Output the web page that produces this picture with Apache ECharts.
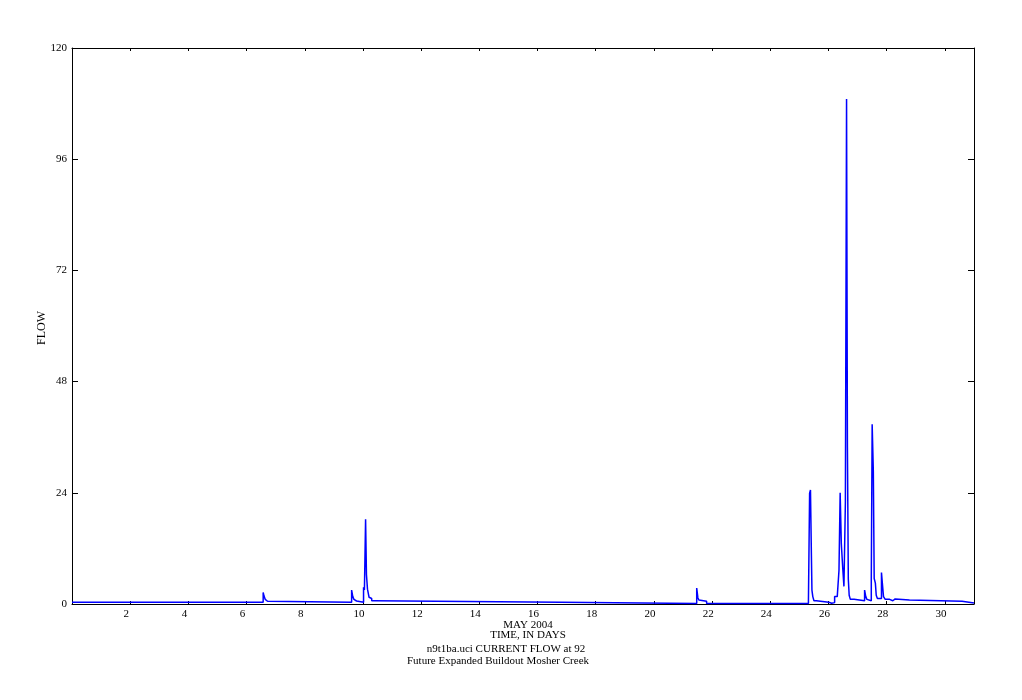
<!DOCTYPE html>
<html>
<head>
<meta charset="utf-8">
<script src="https://cdn.jsdelivr.net/npm/echarts@6/dist/echarts.min.js"></script>
<style>html,body{margin:0;padding:0;background:#fff}#c{width:1022px;height:700px}</style>
</head>
<body>
<div id="c"></div>
<script>
var days = [0, 6.57, 6.60, 6.64, 6.68, 6.72, 9.61, 9.65, 9.69, 9.74, 9.78, 10.02, 10.05, 10.09, 10.12, 10.155, 10.21, 10.26, 10.30, 10.37, 16.79, 21.47, 21.51, 21.545, 21.59, 21.81, 25.31, 25.35, 25.38, 25.41, 25.43, 25.46, 25.50, 25.58, 26.01, 26.11, 26.15, 26.21, 26.30, 26.36, 26.40, 26.44, 26.49, 26.53, 26.58, 26.62, 26.65, 26.68, 26.71, 26.75, 26.88, 27.24, 27.28, 27.32, 27.35, 27.47, 27.50, 27.54, 27.57, 27.61, 27.64, 27.68, 27.82, 27.85, 27.89, 27.95, 28.10, 28.21, 28.29, 28.78, 30.59, 31];
var flow = [0.4, 2.5, 1.7, 1.0, 0.6, 0.4, 3.0, 1.6, 1.0, 0.65, 0.4, 3.6, 3.0, 18.3, 6.3, 3.2, 1.45, 1.2, 0.7, 0.4, 0.12, 3.45, 1.36, 0.86, 0.58, 0.12, 0.7, 23.9, 24.6, 11.3, 3.0, 1.6, 0.7, 0.37, 0.15, 0.02, 0.3, 1.6, 1.9, 7.3, 24.0, 13.0, 7.6, 3.8, 22.0, 109, 33.7, 5.4, 1.9, 1.0, 0.7, 3.0, 1.6, 1.0, 0.7, 5.5, 38.8, 28.7, 5.5, 4.5, 1.9, 1.2, 6.8, 4.5, 1.6, 1.0, 0.7, 1.1, 0.85, 0.6, 0.2, 0.2];
var xTicks = [2, 4, 6, 8, 10, 12, 14, 16, 18, 20, 22, 24, 26, 28, 30];
var yTicks = [0, 24, 48, 72, 96, 120];
var xRange = [0, 31];
var yRange = [0, 120];
var yLabel = 'FLOW';
var xTitle1 = 'MAY 2004';
var xTitle2 = 'TIME, IN DAYS';
var note1 = 'n9t1ba.uci CURRENT FLOW at 92';
var note2 = 'Future Expanded Buildout Mosher Creek';

var FONT = '"Liberation Serif", "DejaVu Serif", serif';
// each value holds from its day until the next day (step function)
var pairs = [];
days.forEach(function (d, i) {
  if (i > 0) pairs.push([d, flow[i - 1]]);
  pairs.push([d, flow[i]]);
});

var chart = echarts.init(document.getElementById('c'), null, {renderer: 'canvas'});
var axisLine = {show: true, onZero: false, lineStyle: {color: '#000', width: 1}};
chart.setOption({
  animation: false,
  backgroundColor: '#fff',
  grid: {left: 72, right: 48, top: 48, bottom: 96, containLabel: false},
  xAxis: [{
    type: 'value', position: 'bottom', min: xRange[0], max: xRange[1],
    axisLine: axisLine,
    axisTick: {show: true, inside: true, length: 3, customValues: xTicks, lineStyle: {color: '#000'}},
    axisLabel: {show: true, customValues: xTicks, color: '#000', fontFamily: FONT, fontSize: 11, margin: 5, padding: [0, 8, 0, 0]},
    splitLine: {show: false}
  }, {
    type: 'value', position: 'top', min: xRange[0], max: xRange[1],
    axisLine: axisLine,
    axisTick: {show: true, inside: true, length: 3, customValues: xTicks, lineStyle: {color: '#000'}},
    axisLabel: {show: false},
    splitLine: {show: false}
  }],
  yAxis: [{
    type: 'value', position: 'left', min: yRange[0], max: yRange[1],
    axisLine: axisLine,
    axisTick: {show: true, inside: true, length: 6, customValues: yTicks, lineStyle: {color: '#000'}},
    axisLabel: {show: true, customValues: yTicks, color: '#000', fontFamily: FONT, fontSize: 11, margin: 5},
    splitLine: {show: false}
  }, {
    type: 'value', position: 'right', min: yRange[0], max: yRange[1],
    axisLine: axisLine,
    axisTick: {show: true, inside: true, length: 6, customValues: yTicks, lineStyle: {color: '#000'}},
    axisLabel: {show: false},
    splitLine: {show: false}
  }],
  series: [{
    type: 'line', xAxisIndex: 0, yAxisIndex: 0,
    data: pairs, showSymbol: false, symbol: 'none',
    lineStyle: {color: '#0000ff', width: 1.5},
    z: 1
  }],
  graphic: [
    {type: 'text', x: 42, y: 328, rotation: Math.PI / 2, style: {text: yLabel, font: '12px ' + FONT, fill: '#000', align: 'center', verticalAlign: 'middle'}},
    {type: 'text', x: 528, y: 625, style: {text: xTitle1, font: '11px ' + FONT, fill: '#000', align: 'center', verticalAlign: 'middle'}},
    {type: 'text', x: 528, y: 635, style: {text: xTitle2, font: '11px ' + FONT, fill: '#000', align: 'center', verticalAlign: 'middle'}},
    {type: 'text', x: 506, y: 649, style: {text: note1, font: '11px ' + FONT, fill: '#000', align: 'center', verticalAlign: 'middle'}},
    {type: 'text', x: 498, y: 661, style: {text: note2, font: '11px ' + FONT, fill: '#000', align: 'center', verticalAlign: 'middle'}}
  ]
});
</script>
</body>
</html>
